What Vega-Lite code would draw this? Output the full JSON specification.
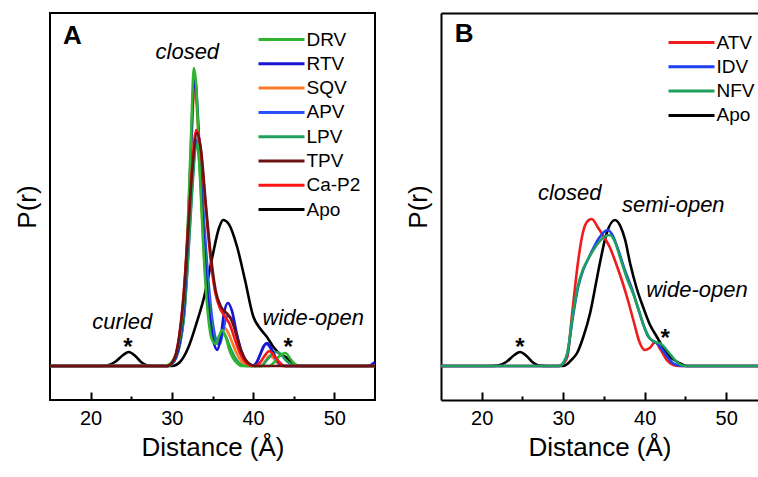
{
  "$schema": "https://vega.github.io/schema/vega-lite/v6.json",
  "padding": {"left": 13, "top": 12, "right": 0, "bottom": 0},
  "background": "white",
  "config": {
    "font": "Liberation Sans",
    "view": {"stroke": "black", "strokeWidth": 2},
    "axis": {"grid": false, "labelFont": "Liberation Sans", "labelFontSize": 20, "labelColor": "black", "titleFont": "Liberation Sans", "titleFontSize": 26, "titleFontWeight": "normal", "titleColor": "black", "domainColor": "black", "tickColor": "black"},
    "legend": {"title": null, "orient": "none", "padding": 0, "symbolType": "M-2,0H2", "symbolSize": 529, "symbolStrokeWidth": 3, "labelFont": "Liberation Sans", "labelFontSize": 19, "labelColor": "black", "labelOffset": 12, "rowPadding": 1.3},
    "concat": {"spacing": 29}
  },
  "resolve": {"scale": {"color": "independent"}},
  "datasets": {
    "curves": [
      {"p":"A","s":"Apo","x":15,"y":0},{"p":"A","s":"Apo","x":21,"y":0},{"p":"A","s":"Apo","x":22,"y":0.5},{"p":"A","s":"Apo","x":23,"y":4},{"p":"A","s":"Apo","x":24,"y":11},{"p":"A","s":"Apo","x":24.7,"y":14},{"p":"A","s":"Apo","x":25.5,"y":10},{"p":"A","s":"Apo","x":26.2,"y":4},{"p":"A","s":"Apo","x":27,"y":0.5},{"p":"A","s":"Apo","x":28,"y":0},{"p":"A","s":"Apo","x":30,"y":0},{"p":"A","s":"Apo","x":30.5,"y":1},{"p":"A","s":"Apo","x":31,"y":4},{"p":"A","s":"Apo","x":32,"y":18},{"p":"A","s":"Apo","x":33,"y":42},{"p":"A","s":"Apo","x":34,"y":70},{"p":"A","s":"Apo","x":35,"y":110},{"p":"A","s":"Apo","x":35.8,"y":138},{"p":"A","s":"Apo","x":36.3,"y":146},{"p":"A","s":"Apo","x":37,"y":142},{"p":"A","s":"Apo","x":38,"y":120},{"p":"A","s":"Apo","x":39,"y":86},{"p":"A","s":"Apo","x":40,"y":50},{"p":"A","s":"Apo","x":41,"y":36},{"p":"A","s":"Apo","x":41.7,"y":29},{"p":"A","s":"Apo","x":42.5,"y":19},{"p":"A","s":"Apo","x":43.3,"y":12},{"p":"A","s":"Apo","x":44,"y":9},{"p":"A","s":"Apo","x":44.6,"y":5},{"p":"A","s":"Apo","x":45.3,"y":1},{"p":"A","s":"Apo","x":46,"y":0},{"p":"A","s":"Apo","x":55,"y":0},
      {"p":"A","s":"SQV","x":15,"y":0},{"p":"A","s":"SQV","x":29.5,"y":0},{"p":"A","s":"SQV","x":30,"y":3},{"p":"A","s":"SQV","x":30.5,"y":10},{"p":"A","s":"SQV","x":31,"y":26},{"p":"A","s":"SQV","x":31.5,"y":62},{"p":"A","s":"SQV","x":32,"y":140},{"p":"A","s":"SQV","x":32.4,"y":220},{"p":"A","s":"SQV","x":32.8,"y":278},{"p":"A","s":"SQV","x":33.2,"y":240},{"p":"A","s":"SQV","x":33.6,"y":170},{"p":"A","s":"SQV","x":34,"y":105},{"p":"A","s":"SQV","x":34.4,"y":62},{"p":"A","s":"SQV","x":34.8,"y":35},{"p":"A","s":"SQV","x":35.2,"y":25},{"p":"A","s":"SQV","x":35.6,"y":22},{"p":"A","s":"SQV","x":36,"y":30},{"p":"A","s":"SQV","x":36.5,"y":38},{"p":"A","s":"SQV","x":37,"y":32},{"p":"A","s":"SQV","x":37.5,"y":22},{"p":"A","s":"SQV","x":38,"y":12},{"p":"A","s":"SQV","x":38.6,"y":4},{"p":"A","s":"SQV","x":39.2,"y":0},{"p":"A","s":"SQV","x":41,"y":0},{"p":"A","s":"SQV","x":41.5,"y":5},{"p":"A","s":"SQV","x":42,"y":10},{"p":"A","s":"SQV","x":42.5,"y":8},{"p":"A","s":"SQV","x":43,"y":3},{"p":"A","s":"SQV","x":43.5,"y":0},{"p":"A","s":"SQV","x":55,"y":0},
      {"p":"A","s":"APV","x":15,"y":0},{"p":"A","s":"APV","x":29.5,"y":0},{"p":"A","s":"APV","x":30,"y":2},{"p":"A","s":"APV","x":30.5,"y":8},{"p":"A","s":"APV","x":31,"y":22},{"p":"A","s":"APV","x":31.5,"y":50},{"p":"A","s":"APV","x":32,"y":110},{"p":"A","s":"APV","x":32.5,"y":180},{"p":"A","s":"APV","x":33,"y":226},{"p":"A","s":"APV","x":33.5,"y":200},{"p":"A","s":"APV","x":34,"y":140},{"p":"A","s":"APV","x":34.5,"y":85},{"p":"A","s":"APV","x":35,"y":45},{"p":"A","s":"APV","x":35.5,"y":25},{"p":"A","s":"APV","x":35.9,"y":22},{"p":"A","s":"APV","x":36.3,"y":35},{"p":"A","s":"APV","x":36.8,"y":50},{"p":"A","s":"APV","x":37.3,"y":48},{"p":"A","s":"APV","x":38,"y":30},{"p":"A","s":"APV","x":38.6,"y":12},{"p":"A","s":"APV","x":39.2,"y":3},{"p":"A","s":"APV","x":39.8,"y":0},{"p":"A","s":"APV","x":40.4,"y":3},{"p":"A","s":"APV","x":41,"y":14},{"p":"A","s":"APV","x":41.6,"y":22},{"p":"A","s":"APV","x":42.2,"y":17},{"p":"A","s":"APV","x":42.8,"y":7},{"p":"A","s":"APV","x":43.4,"y":1},{"p":"A","s":"APV","x":44,"y":0},{"p":"A","s":"APV","x":55,"y":0},
      {"p":"A","s":"LPV","x":15,"y":0},{"p":"A","s":"LPV","x":29.5,"y":0},{"p":"A","s":"LPV","x":30,"y":2},{"p":"A","s":"LPV","x":30.5,"y":8},{"p":"A","s":"LPV","x":31,"y":22},{"p":"A","s":"LPV","x":31.5,"y":50},{"p":"A","s":"LPV","x":32,"y":108},{"p":"A","s":"LPV","x":32.5,"y":175},{"p":"A","s":"LPV","x":33,"y":222},{"p":"A","s":"LPV","x":33.5,"y":190},{"p":"A","s":"LPV","x":34,"y":125},{"p":"A","s":"LPV","x":34.5,"y":70},{"p":"A","s":"LPV","x":35,"y":35},{"p":"A","s":"LPV","x":35.4,"y":22},{"p":"A","s":"LPV","x":35.8,"y":28},{"p":"A","s":"LPV","x":36.2,"y":34},{"p":"A","s":"LPV","x":36.6,"y":30},{"p":"A","s":"LPV","x":37.2,"y":18},{"p":"A","s":"LPV","x":37.8,"y":8},{"p":"A","s":"LPV","x":38.4,"y":2},{"p":"A","s":"LPV","x":39,"y":0},{"p":"A","s":"LPV","x":41,"y":0},{"p":"A","s":"LPV","x":41.6,"y":5},{"p":"A","s":"LPV","x":42.2,"y":11},{"p":"A","s":"LPV","x":42.8,"y":14},{"p":"A","s":"LPV","x":43.4,"y":12},{"p":"A","s":"LPV","x":44,"y":6},{"p":"A","s":"LPV","x":44.6,"y":2},{"p":"A","s":"LPV","x":45.2,"y":0},{"p":"A","s":"LPV","x":55,"y":0},
      {"p":"A","s":"RTV","x":15,"y":0},{"p":"A","s":"RTV","x":29.5,"y":0},{"p":"A","s":"RTV","x":30,"y":3},{"p":"A","s":"RTV","x":30.5,"y":9},{"p":"A","s":"RTV","x":31,"y":25},{"p":"A","s":"RTV","x":31.5,"y":60},{"p":"A","s":"RTV","x":32,"y":140},{"p":"A","s":"RTV","x":32.4,"y":230},{"p":"A","s":"RTV","x":32.8,"y":290},{"p":"A","s":"RTV","x":33.2,"y":250},{"p":"A","s":"RTV","x":33.6,"y":180},{"p":"A","s":"RTV","x":34,"y":115},{"p":"A","s":"RTV","x":34.4,"y":70},{"p":"A","s":"RTV","x":34.8,"y":40},{"p":"A","s":"RTV","x":35.2,"y":22},{"p":"A","s":"RTV","x":35.6,"y":16},{"p":"A","s":"RTV","x":36,"y":28},{"p":"A","s":"RTV","x":36.4,"y":52},{"p":"A","s":"RTV","x":36.9,"y":63},{"p":"A","s":"RTV","x":37.4,"y":55},{"p":"A","s":"RTV","x":38,"y":32},{"p":"A","s":"RTV","x":38.6,"y":14},{"p":"A","s":"RTV","x":39.2,"y":4},{"p":"A","s":"RTV","x":39.8,"y":0},{"p":"A","s":"RTV","x":40.3,"y":2},{"p":"A","s":"RTV","x":40.8,"y":10},{"p":"A","s":"RTV","x":41.3,"y":20},{"p":"A","s":"RTV","x":41.7,"y":23},{"p":"A","s":"RTV","x":42.2,"y":18},{"p":"A","s":"RTV","x":42.8,"y":8},{"p":"A","s":"RTV","x":43.4,"y":2},{"p":"A","s":"RTV","x":44,"y":0},{"p":"A","s":"RTV","x":54,"y":0},{"p":"A","s":"RTV","x":54.5,"y":1},{"p":"A","s":"RTV","x":55,"y":4},
      {"p":"A","s":"DRV","x":15,"y":0},{"p":"A","s":"DRV","x":29,"y":0},{"p":"A","s":"DRV","x":29.5,"y":1},{"p":"A","s":"DRV","x":30,"y":4},{"p":"A","s":"DRV","x":30.5,"y":12},{"p":"A","s":"DRV","x":31,"y":30},{"p":"A","s":"DRV","x":31.5,"y":70},{"p":"A","s":"DRV","x":32,"y":150},{"p":"A","s":"DRV","x":32.4,"y":240},{"p":"A","s":"DRV","x":32.7,"y":298},{"p":"A","s":"DRV","x":33,"y":280},{"p":"A","s":"DRV","x":33.4,"y":200},{"p":"A","s":"DRV","x":33.8,"y":130},{"p":"A","s":"DRV","x":34.2,"y":75},{"p":"A","s":"DRV","x":34.6,"y":40},{"p":"A","s":"DRV","x":35,"y":25},{"p":"A","s":"DRV","x":35.4,"y":22},{"p":"A","s":"DRV","x":35.8,"y":30},{"p":"A","s":"DRV","x":36.2,"y":36},{"p":"A","s":"DRV","x":36.6,"y":30},{"p":"A","s":"DRV","x":37,"y":18},{"p":"A","s":"DRV","x":37.5,"y":8},{"p":"A","s":"DRV","x":38,"y":3},{"p":"A","s":"DRV","x":38.5,"y":0},{"p":"A","s":"DRV","x":42,"y":0},{"p":"A","s":"DRV","x":42.5,"y":3},{"p":"A","s":"DRV","x":43,"y":8},{"p":"A","s":"DRV","x":43.6,"y":12},{"p":"A","s":"DRV","x":44,"y":13},{"p":"A","s":"DRV","x":44.5,"y":8},{"p":"A","s":"DRV","x":45,"y":3},{"p":"A","s":"DRV","x":45.5,"y":0},{"p":"A","s":"DRV","x":55,"y":0},
      {"p":"A","s":"Ca-P2","x":15,"y":0},{"p":"A","s":"Ca-P2","x":29.5,"y":0},{"p":"A","s":"Ca-P2","x":30,"y":3},{"p":"A","s":"Ca-P2","x":30.5,"y":12},{"p":"A","s":"Ca-P2","x":31,"y":36},{"p":"A","s":"Ca-P2","x":31.5,"y":78},{"p":"A","s":"Ca-P2","x":32,"y":140},{"p":"A","s":"Ca-P2","x":32.5,"y":200},{"p":"A","s":"Ca-P2","x":33,"y":236},{"p":"A","s":"Ca-P2","x":33.5,"y":220},{"p":"A","s":"Ca-P2","x":34.1,"y":165},{"p":"A","s":"Ca-P2","x":34.7,"y":112},{"p":"A","s":"Ca-P2","x":35.3,"y":75},{"p":"A","s":"Ca-P2","x":35.9,"y":58},{"p":"A","s":"Ca-P2","x":36.5,"y":50},{"p":"A","s":"Ca-P2","x":37.1,"y":42},{"p":"A","s":"Ca-P2","x":37.7,"y":28},{"p":"A","s":"Ca-P2","x":38.3,"y":14},{"p":"A","s":"Ca-P2","x":38.9,"y":5},{"p":"A","s":"Ca-P2","x":39.5,"y":1},{"p":"A","s":"Ca-P2","x":40.1,"y":0},{"p":"A","s":"Ca-P2","x":40.8,"y":3},{"p":"A","s":"Ca-P2","x":41.4,"y":10},{"p":"A","s":"Ca-P2","x":42,"y":15},{"p":"A","s":"Ca-P2","x":42.6,"y":10},{"p":"A","s":"Ca-P2","x":43.2,"y":4},{"p":"A","s":"Ca-P2","x":43.8,"y":0},{"p":"A","s":"Ca-P2","x":55,"y":0},
      {"p":"A","s":"TPV","x":15,"y":0},{"p":"A","s":"TPV","x":29.5,"y":0},{"p":"A","s":"TPV","x":30,"y":3},{"p":"A","s":"TPV","x":30.5,"y":12},{"p":"A","s":"TPV","x":31,"y":35},{"p":"A","s":"TPV","x":31.5,"y":75},{"p":"A","s":"TPV","x":32,"y":135},{"p":"A","s":"TPV","x":32.5,"y":195},{"p":"A","s":"TPV","x":33.1,"y":233},{"p":"A","s":"TPV","x":33.6,"y":215},{"p":"A","s":"TPV","x":34.2,"y":160},{"p":"A","s":"TPV","x":34.8,"y":110},{"p":"A","s":"TPV","x":35.4,"y":75},{"p":"A","s":"TPV","x":36,"y":60},{"p":"A","s":"TPV","x":36.6,"y":54},{"p":"A","s":"TPV","x":37.2,"y":48},{"p":"A","s":"TPV","x":37.8,"y":35},{"p":"A","s":"TPV","x":38.4,"y":18},{"p":"A","s":"TPV","x":39,"y":7},{"p":"A","s":"TPV","x":39.6,"y":2},{"p":"A","s":"TPV","x":40.2,"y":0},{"p":"A","s":"TPV","x":55,"y":0},
      {"p":"B","s":"Apo","x":15,"y":0},{"p":"B","s":"Apo","x":21,"y":0},{"p":"B","s":"Apo","x":22,"y":0.5},{"p":"B","s":"Apo","x":23,"y":4},{"p":"B","s":"Apo","x":24,"y":11},{"p":"B","s":"Apo","x":24.7,"y":14},{"p":"B","s":"Apo","x":25.5,"y":10},{"p":"B","s":"Apo","x":26.2,"y":4},{"p":"B","s":"Apo","x":27,"y":0.5},{"p":"B","s":"Apo","x":28,"y":0},{"p":"B","s":"Apo","x":30,"y":0},{"p":"B","s":"Apo","x":30.5,"y":2},{"p":"B","s":"Apo","x":31,"y":6},{"p":"B","s":"Apo","x":31.7,"y":13},{"p":"B","s":"Apo","x":32.5,"y":30},{"p":"B","s":"Apo","x":33.3,"y":53},{"p":"B","s":"Apo","x":34,"y":82},{"p":"B","s":"Apo","x":34.5,"y":103},{"p":"B","s":"Apo","x":35.3,"y":132},{"p":"B","s":"Apo","x":36.35,"y":146},{"p":"B","s":"Apo","x":37,"y":140},{"p":"B","s":"Apo","x":37.6,"y":126},{"p":"B","s":"Apo","x":38.2,"y":103},{"p":"B","s":"Apo","x":39,"y":78},{"p":"B","s":"Apo","x":39.8,"y":59},{"p":"B","s":"Apo","x":40.6,"y":42},{"p":"B","s":"Apo","x":41.5,"y":29},{"p":"B","s":"Apo","x":42.2,"y":19},{"p":"B","s":"Apo","x":43,"y":10},{"p":"B","s":"Apo","x":43.8,"y":5},{"p":"B","s":"Apo","x":44.5,"y":2},{"p":"B","s":"Apo","x":45.2,"y":0},{"p":"B","s":"Apo","x":55,"y":0},
      {"p":"B","s":"ATV","x":15,"y":0},{"p":"B","s":"ATV","x":29.5,"y":0},{"p":"B","s":"ATV","x":30,"y":2},{"p":"B","s":"ATV","x":30.5,"y":9},{"p":"B","s":"ATV","x":31.1,"y":53},{"p":"B","s":"ATV","x":31.8,"y":103},{"p":"B","s":"ATV","x":32.4,"y":133},{"p":"B","s":"ATV","x":33,"y":145},{"p":"B","s":"ATV","x":33.5,"y":147},{"p":"B","s":"ATV","x":34.3,"y":138},{"p":"B","s":"ATV","x":35,"y":129},{"p":"B","s":"ATV","x":35.7,"y":119},{"p":"B","s":"ATV","x":36.5,"y":102},{"p":"B","s":"ATV","x":37.3,"y":83},{"p":"B","s":"ATV","x":38,"y":64},{"p":"B","s":"ATV","x":38.6,"y":46},{"p":"B","s":"ATV","x":39.4,"y":23},{"p":"B","s":"ATV","x":40,"y":16},{"p":"B","s":"ATV","x":40.6,"y":18},{"p":"B","s":"ATV","x":41.3,"y":24},{"p":"B","s":"ATV","x":41.9,"y":17},{"p":"B","s":"ATV","x":42.7,"y":6},{"p":"B","s":"ATV","x":43.5,"y":1},{"p":"B","s":"ATV","x":44.2,"y":0},{"p":"B","s":"ATV","x":55,"y":0},
      {"p":"B","s":"IDV","x":15,"y":0},{"p":"B","s":"IDV","x":29.5,"y":0},{"p":"B","s":"IDV","x":30,"y":3},{"p":"B","s":"IDV","x":30.5,"y":12},{"p":"B","s":"IDV","x":31.2,"y":50},{"p":"B","s":"IDV","x":31.8,"y":78},{"p":"B","s":"IDV","x":32.4,"y":95},{"p":"B","s":"IDV","x":33,"y":106},{"p":"B","s":"IDV","x":33.7,"y":118},{"p":"B","s":"IDV","x":34.4,"y":128},{"p":"B","s":"IDV","x":35,"y":134},{"p":"B","s":"IDV","x":35.5,"y":136},{"p":"B","s":"IDV","x":36.1,"y":130},{"p":"B","s":"IDV","x":36.8,"y":115},{"p":"B","s":"IDV","x":37.6,"y":95},{"p":"B","s":"IDV","x":38.4,"y":78},{"p":"B","s":"IDV","x":39.1,"y":60},{"p":"B","s":"IDV","x":39.8,"y":42},{"p":"B","s":"IDV","x":40.4,"y":30},{"p":"B","s":"IDV","x":41,"y":25},{"p":"B","s":"IDV","x":41.6,"y":22},{"p":"B","s":"IDV","x":42.2,"y":16},{"p":"B","s":"IDV","x":42.8,"y":9},{"p":"B","s":"IDV","x":43.4,"y":3},{"p":"B","s":"IDV","x":44,"y":1},{"p":"B","s":"IDV","x":44.6,"y":0},{"p":"B","s":"IDV","x":55,"y":0},
      {"p":"B","s":"NFV","x":15,"y":0},{"p":"B","s":"NFV","x":29.5,"y":0},{"p":"B","s":"NFV","x":30,"y":3},{"p":"B","s":"NFV","x":30.5,"y":13},{"p":"B","s":"NFV","x":31.2,"y":53},{"p":"B","s":"NFV","x":31.8,"y":80},{"p":"B","s":"NFV","x":32.4,"y":96},{"p":"B","s":"NFV","x":33,"y":106},{"p":"B","s":"NFV","x":33.7,"y":116},{"p":"B","s":"NFV","x":34.4,"y":124},{"p":"B","s":"NFV","x":35,"y":129},{"p":"B","s":"NFV","x":35.7,"y":131},{"p":"B","s":"NFV","x":36.3,"y":125},{"p":"B","s":"NFV","x":37,"y":108},{"p":"B","s":"NFV","x":37.8,"y":88},{"p":"B","s":"NFV","x":38.6,"y":72},{"p":"B","s":"NFV","x":39.3,"y":55},{"p":"B","s":"NFV","x":40,"y":38},{"p":"B","s":"NFV","x":40.6,"y":28},{"p":"B","s":"NFV","x":41.3,"y":24},{"p":"B","s":"NFV","x":42,"y":22},{"p":"B","s":"NFV","x":42.6,"y":17},{"p":"B","s":"NFV","x":43.2,"y":11},{"p":"B","s":"NFV","x":43.8,"y":5},{"p":"B","s":"NFV","x":44.5,"y":1},{"p":"B","s":"NFV","x":45.2,"y":0},{"p":"B","s":"NFV","x":55,"y":0}
    ],
    "notes": [
      {"p":"A","k":"i","x":31.9,"y":314,"t":"closed"},
      {"p":"A","k":"i","x":23.9,"y":44,"t":"curled"},
      {"p":"A","k":"i","x":47.4,"y":48,"t":"wide-open"},
      {"p":"A","k":"s","x":24.6,"y":11,"t":"*"},
      {"p":"A","k":"s","x":44.3,"y":11,"t":"*"},
      {"p":"A","k":"b","x":16.6,"y":330,"t":"A"},
      {"p":"B","k":"i","x":30.8,"y":173,"t":"closed"},
      {"p":"B","k":"i","x":43.5,"y":161,"t":"semi-open"},
      {"p":"B","k":"i","x":46.4,"y":76,"t":"wide-open"},
      {"p":"B","k":"s","x":24.7,"y":11,"t":"*"},
      {"p":"B","k":"s","x":42.5,"y":20,"t":"*"},
      {"p":"B","k":"b","x":16.7,"y":332,"t":"B"}
    ]
  },
  "hconcat": [
    {
      "width": 325,
      "height": 387,
      "layer": [
        {
          "data": {"name": "curves"},
          "transform": [{"filter": "datum.p === 'A'"}],
          "mark": {"type": "line", "strokeWidth": 2.6, "interpolate": "monotone", "clip": true},
          "encoding": {
            "x": {"field": "x", "type": "quantitative", "scale": {"domain": [15, 55], "nice": false, "zero": false},
                  "axis": {"title": "Distance (Å)", "values": [20, 25, 30, 35, 40, 45, 50], "labelExpr": "datum.value % 10 === 0 ? datum.label : ''", "tickSize": {"condition": {"test": "datum.value % 10 === 0", "value": -8}, "value": -4}, "tickWidth": 2, "domain": false, "labelPadding": 16, "titlePadding": 6}},
            "y": {"field": "y", "type": "quantitative", "scale": {"domain": [-34, 353], "nice": false, "zero": false},
                  "axis": {"title": "P(r)", "labels": false, "ticks": false, "domain": false, "titlePadding": 10}},
            "color": {"field": "s", "type": "nominal",
                      "scale": {"domain": ["DRV", "RTV", "SQV", "APV", "LPV", "TPV", "Ca-P2", "Apo"], "range": ["#2fb52f", "#1616d4", "#ff7a24", "#2a50ff", "#1ea05c", "#6a1212", "#ff1414", "#000000"]},
                      "legend": {"legendX": 218.5, "legendY": 13.5}}
          }
        },
        {
          "data": {"name": "notes"},
          "transform": [{"filter": "datum.p === 'A' && datum.k === 'i'"}],
          "mark": {"type": "text", "fontSize": 22, "fontStyle": "italic", "align": "center", "baseline": "middle", "color": "black"},
          "encoding": {"x": {"field": "x", "type": "quantitative"}, "y": {"field": "y", "type": "quantitative"}, "text": {"field": "t"}}
        },
        {
          "data": {"name": "notes"},
          "transform": [{"filter": "datum.p === 'A' && datum.k === 's'"}],
          "mark": {"type": "text", "fontSize": 24, "fontWeight": "bold", "align": "center", "baseline": "alphabetic", "color": "black"},
          "encoding": {"x": {"field": "x", "type": "quantitative"}, "y": {"field": "y", "type": "quantitative"}, "text": {"field": "t"}}
        },
        {
          "data": {"name": "notes"},
          "transform": [{"filter": "datum.p === 'A' && datum.k === 'b'"}],
          "mark": {"type": "text", "fontSize": 26, "fontWeight": "bold", "align": "left", "baseline": "middle", "color": "black"},
          "encoding": {"x": {"field": "x", "type": "quantitative"}, "y": {"field": "y", "type": "quantitative"}, "text": {"field": "t"}}
        }
      ]
    },
    {
      "width": 317,
      "height": 387,
      "view": {"stroke": null},
      "resolve": {"axis": {"x": "independent"}},
      "layer": [
        {
          "data": {"name": "curves"},
          "transform": [{"filter": "datum.p === 'B'"}],
          "mark": {"type": "line", "strokeWidth": 2.6, "interpolate": "monotone", "clip": true},
          "encoding": {
            "x": {"field": "x", "type": "quantitative", "scale": {"domain": [15, 53.9], "nice": false, "zero": false},
                  "axis": {"title": "Distance (Å)", "values": [20, 25, 30, 35, 40, 45, 50], "labelExpr": "datum.value % 10 === 0 ? datum.label : ''", "tickSize": {"condition": {"test": "datum.value % 10 === 0", "value": -8}, "value": -4}, "tickWidth": 2, "domain": true, "domainWidth": 2, "labelPadding": 16, "titlePadding": 6}},
            "y": {"field": "y", "type": "quantitative", "scale": {"domain": [-34, 353], "nice": false, "zero": false},
                  "axis": {"title": "P(r)", "labels": false, "ticks": false, "domain": true, "domainWidth": 2, "titlePadding": 10}},
            "color": {"field": "s", "type": "nominal",
                      "scale": {"domain": ["ATV", "IDV", "NFV", "Apo"], "range": ["#f01c1c", "#1e3ef2", "#1ea05c", "#000000"]},
                      "legend": {"legendX": 237.5, "legendY": 16.5}}
          }
        },
        {
          "data": {"name": "notes"},
          "transform": [{"filter": "datum.p === 'B' && datum.k === 'i'"}],
          "mark": {"type": "text", "fontSize": 22, "fontStyle": "italic", "align": "center", "baseline": "middle", "color": "black"},
          "encoding": {"x": {"field": "x", "type": "quantitative", "axis": {"orient": "top", "labels": false, "ticks": false, "domain": true, "domainWidth": 2, "title": null}}, "y": {"field": "y", "type": "quantitative"}, "text": {"field": "t"}}
        },
        {
          "data": {"name": "notes"},
          "transform": [{"filter": "datum.p === 'B' && datum.k === 's'"}],
          "mark": {"type": "text", "fontSize": 24, "fontWeight": "bold", "align": "center", "baseline": "alphabetic", "color": "black"},
          "encoding": {"x": {"field": "x", "type": "quantitative", "axis": null}, "y": {"field": "y", "type": "quantitative"}, "text": {"field": "t"}}
        },
        {
          "data": {"name": "notes"},
          "transform": [{"filter": "datum.p === 'B' && datum.k === 'b'"}],
          "mark": {"type": "text", "fontSize": 26, "fontWeight": "bold", "align": "left", "baseline": "middle", "color": "black"},
          "encoding": {"x": {"field": "x", "type": "quantitative", "axis": null}, "y": {"field": "y", "type": "quantitative"}, "text": {"field": "t"}}
        }
      ]
    }
  ]
}
